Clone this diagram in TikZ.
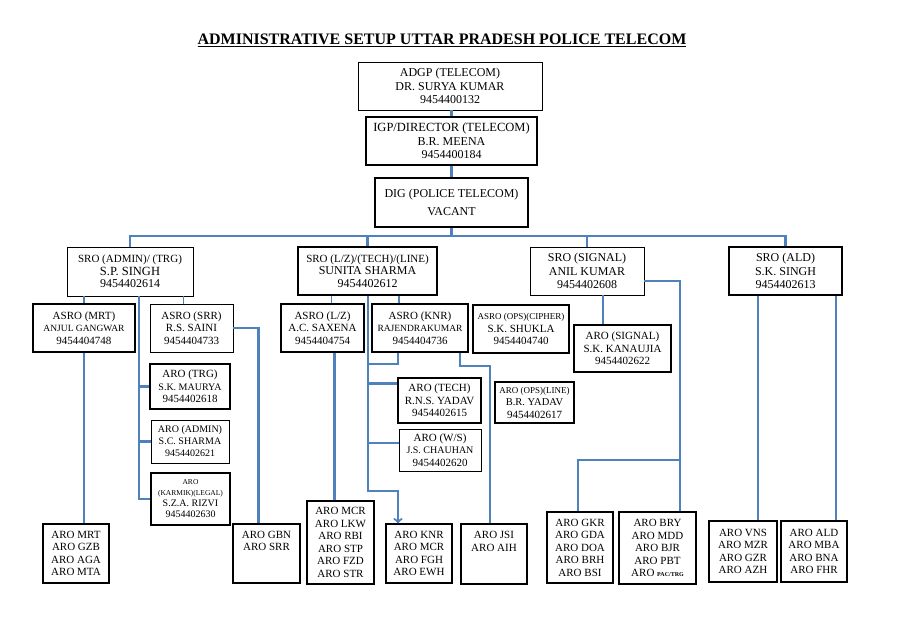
\documentclass[tikz,border=0pt]{standalone}
\usepackage{fontspec}
\setmainfont{Liberation Serif}
\definecolor{linkblue}{RGB}{79,129,189}
\newcommand{\sizeB}{\fontsize{12}{13.5}\selectfont}
\newcommand{\sizeS}{\fontsize{9.5}{11}\selectfont}
\newcommand{\sizeT}{\fontsize{7.5}{8.5}\selectfont}
\begin{document}
\begin{tikzpicture}[x=1pt,y=-1pt,
    box/.style={draw,align=center,inner sep=1pt,font=\fontsize{11}{12.5}\selectfont},
    slimbox/.style={box,line width=0.8pt},
    midbox/.style={box,line width=1.4pt},
    heavybox/.style={box,line width=2.4pt},
    wh/.style 2 args={minimum width=#1,minimum height=#2},
    link/.style={draw=linkblue,line width=2.2pt},
    fine link/.style={draw=linkblue,line width=1.2pt}]
      \useasboundingbox (0,0) rectangle (908,642);
      \node[font=\fontsize{16}{18}\selectfont\bfseries] (title) at (442,40) {\underline{ADMINISTRATIVE SETUP UTTAR PRADESH POLICE TELECOM}};
      \node[slimbox,wh={184}{48},font=\sizeB] (adgp) at (450,86) {ADGP (TELECOM)\\DR. SURYA KUMAR\\9454400132};
      \node[midbox,wh={171}{48},font=\sizeB] (igp) at (451.5,141) {{\fontsize{12.5}{14}\selectfont IGP/DIRECTOR (TELECOM)}\\B.R. MEENA\\9454400184};
      \node[heavybox,wh={153}{49},font=\sizeB] (dig) at (451.5,202.5) {DIG (POLICE TELECOM)\\[5pt]VACANT};
      \node[slimbox,wh={126}{49}] (sroadmin) at (130,271.5) {SRO (ADMIN)/ (TRG)\\{\fontsize{12.5}{13}\selectfont S.P. SINGH}\\{\sizeB 9454402614}};
      \node[midbox,wh={139}{48}] (srolz) at (367.5,271) {SRO (L/Z)/(TECH)/(LINE)\\{\sizeB SUNITA SHARMA}\\{\sizeB 9454402612}};
      \node[slimbox,wh={114}{48},font=\sizeB] (srosignal) at (587,271) {SRO (SIGNAL)\\ANIL KUMAR\\9454402608};
      \node[midbox,wh={113}{48},font=\sizeB] (sroald) at (785.5,271) {SRO (ALD)\\S.K. SINGH\\9454402613};
      \node[midbox,wh={102}{48}] (asromrt) at (84,328) {ASRO (MRT)\\{\sizeS ANJUL GANGWAR}\\9454404748};
      \node[slimbox,wh={83}{48}] (asrosrr) at (191.5,328) {ASRO (SRR)\\R.S. SAINI\\9454404733};
      \node[heavybox,wh={83}{48}] (asrolz) at (322.5,328) {ASRO (L/Z)\\A.C. SAXENA\\9454404754};
      \node[heavybox,wh={96}{48}] (asroknr) at (420,328) {ASRO (KNR)\\{\sizeS RAJENDRAKUMAR}\\9454404736};
      \node[heavybox,wh={96}{48}] (asrocipher) at (521,329) {{\fontsize{9}{10}\selectfont ASRO (OPS)(CIPHER)}\\S.K. SHUKLA\\9454404740};
      \node[heavybox,wh={97}{47}] (arosignal) at (622.5,348.5) {ARO (SIGNAL)\\S.K. KANAUJIA\\9454402622};
      \node[heavybox,wh={80}{45}] (arotrg) at (190,386.5) {ARO (TRG)\\{\fontsize{10}{11}\selectfont S.K. MAURYA}\\9454402618};
      \node[slimbox,wh={78}{43},font=\fontsize{10}{12}\selectfont] (aroadmin) at (190,441.5) {ARO (ADMIN)\\S.C. SHARMA\\9454402621};
      \node[heavybox,wh={79}{52},font=\fontsize{10}{11}\selectfont] (arokarmik) at (190.5,499) {{\sizeT ARO}\\{\sizeT (KARMIK)(LEGAL)}\\S.Z.A. RIZVI\\9454402630};
      \node[heavybox,wh={83}{45}] (arotech) at (439.5,400.5) {ARO (TECH)\\R.N.S. YADAV\\9454402615};
      \node[slimbox,wh={82}{42}] (arows) at (440,450) {ARO (W/S)\\{\fontsize{10}{11}\selectfont J.S. CHAUHAN}\\9454402620};
      \node[midbox,wh={79}{41}] (aroopsline) at (534.5,402.5) {{\fontsize{9}{10}\selectfont ARO (OPS)(LINE)}\\{\fontsize{10.5}{11}\selectfont B.R. YADAV}\\9454402617};
      \node[midbox,wh={66}{59}] (mrtgroup) at (76,553.5) {ARO MRT\\ARO GZB\\ARO AGA\\ARO MTA};
      \node[midbox,wh={67}{59}] (gbngroup) at (266.5,553.5) {ARO GBN\\ARO SRR\\\mbox{}\\\mbox{}};
      \node[heavybox,wh={67}{83}] (mcrgroup) at (340.5,542.5) {ARO MCR\\ARO LKW\\ARO RBI\\ARO STP\\ARO FZD\\ARO STR};
      \node[midbox,wh={66}{59}] (knrgroup) at (419,553.5) {ARO KNR\\ARO MCR\\ARO FGH\\ARO EWH};
      \node[heavybox,wh={66}{60}] (jsigroup) at (494,554) {ARO JSI\\ARO AIH\\\mbox{}\\\mbox{}};
      \node[midbox,wh={66}{71}] (gkrgroup) at (580,547.5) {ARO GKR\\ARO GDA\\ARO DOA\\ARO BRH\\ARO BSI};
      \node[heavybox,wh={77}{72}] (brygroup) at (657.5,548) {ARO BRY\\ARO MDD\\ARO BJR\\ARO PBT\\ARO {\fontsize{6}{7}\selectfont\bfseries PAC/TRG}};
      \node[midbox,wh={68}{61}] (vnsgroup) at (743,551.5) {ARO VNS\\ARO MZR\\ARO GZR\\ARO AZH};
      \node[heavybox,wh={66}{61}] (aldgroup) at (814,551.5) {ARO ALD\\ARO MBA\\ARO BNA\\ARO FHR};
      \coordinate (bus) at (451,236);
      \coordinate (admtrunk) at ([xshift=9]sroadmin.south);
      \coordinate (lztrunk) at ([xshift=0.5]srolz.south);
      \draw[link] (igp) -- (igp |- adgp.south);
      \draw[link] (dig) -- (dig |- igp.south);
      \draw[link] (dig) -- (dig |- bus);
      \draw[link] (sroadmin) |- (bus) -| (sroald);
      \draw[link] (srolz) -- (srolz |- bus);
      \draw[link] (srosignal) -- (srosignal |- bus);
      \draw[fine link] (asromrt) -- (asromrt |- sroadmin.south);
      \draw[fine link] ([xshift=-8]asrosrr.north) -- ([xshift=-8]asrosrr.north |- sroadmin.south);
      \draw[link] (admtrunk) |- (arokarmik.west);
      \draw[link] (arotrg.west) -- (arotrg.west -| admtrunk);
      \draw[link] (aroadmin.west) -- (aroadmin.west -| admtrunk);
      \draw[link] (asromrt) -- (asromrt |- mrtgroup.north);
      \draw[link] (asrosrr.east) -| ([xshift=-8]gbngroup.north);
      \draw[fine link] ([xshift=9]asrolz.north) -- ([xshift=9]asrolz.north |- srolz.south);
      \draw[link] ([xshift=-21]asroknr.north) -- ([xshift=-21]asroknr.north |- srolz.south);
      \draw[link,->] (lztrunk) |- ([xshift=-21,yshift=32]knrgroup.north) -- ([xshift=-21]knrgroup.north);
      \draw[link] ([xshift=-22]asroknr.south) |- ([yshift=-11]asroknr.south -| lztrunk);
      \draw[link] ([yshift=17]arotech.west) -- ([yshift=17]arotech.west -| lztrunk);
      \draw[link] ([yshift=7]arows.west) -- ([yshift=7]arows.west -| lztrunk);
      \draw[link] ([xshift=-6]mcrgroup.north) -- ([xshift=-6]mcrgroup.north |- asrolz.south);
      \draw[link] ([xshift=40]asroknr.south) -- ++(0,13) -| ([xshift=-4]jsigroup.north);
      \draw[fine link] ([xshift=-19.5]arosignal.north) -- ([xshift=-19.5]arosignal.north |- srosignal.south);
      \draw[fine link] ([yshift=-10]srosignal.east) -| ([xshift=22.5]brygroup.north);
      \draw[link] ([xshift=22.5,yshift=51]brygroup.north) -| ([xshift=-2]gkrgroup.north);
      \draw[link] ([xshift=15]vnsgroup.north) -- ([xshift=15]vnsgroup.north |- sroald.south);
      \draw[link] ([xshift=22]aldgroup.north) -- ([xshift=22]aldgroup.north |- sroald.south);
    \end{tikzpicture}
\end{document}
